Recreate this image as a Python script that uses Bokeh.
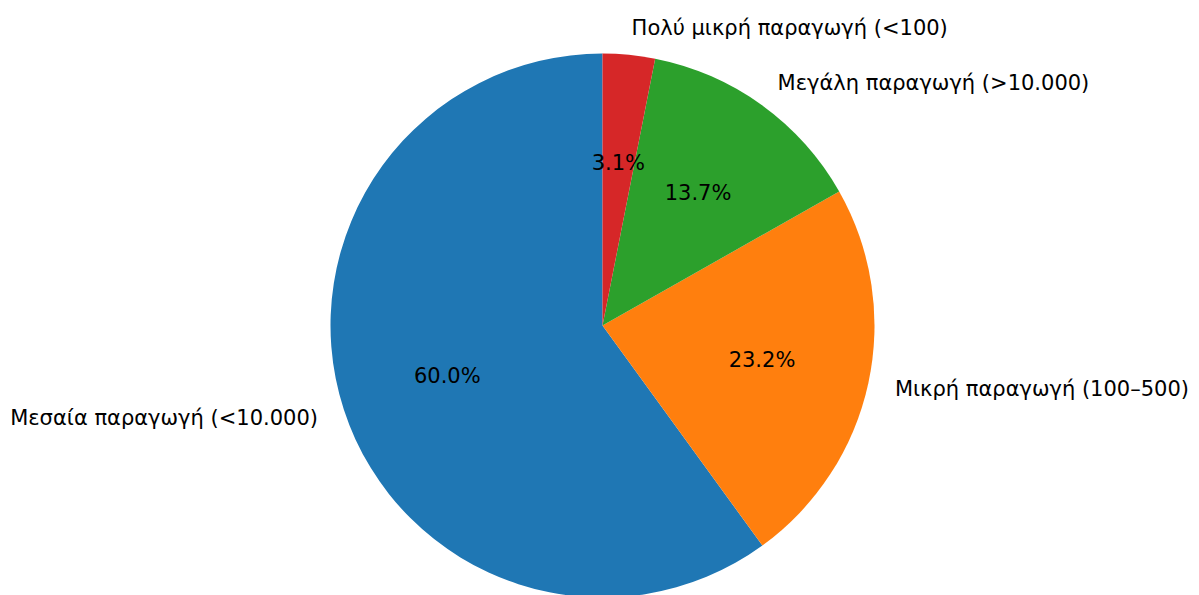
import math
from bokeh.plotting import figure
from bokeh.models import ColumnDataSource, Range1d
from bokeh.core.properties import value
from bokeh.embed import file_html
from bokeh.resources import INLINE

categories = ["Μεσαία παραγωγή (<10.000)", "Μικρή παραγωγή (100–500)",
              "Μεγάλη παραγωγή (>10.000)", "Πολύ μικρή παραγωγή (<100)"]
shares = [60.0, 23.2, 13.7, 3.1]
colors = ["#1f77b4", "#ff7f0e", "#2ca02c", "#d62728"]

W, H = 1199, 595
cx, cy = 602, 325   # pie centre in canvas pixels
scale = 272.0       # pixels per unit radius

total = sum(shares)
starts, ends, mids = [], [], []
a = math.pi / 2
for s in shares:
    da = 2 * math.pi * s / total
    starts.append(a)
    ends.append(a + da)
    mids.append(a + da / 2)
    a += da

wedges = ColumnDataSource(dict(start=starts, end=ends, color=colors))

lab_x = [1.1 * math.cos(m) for m in mids]
lab_y = [1.1 * math.sin(m) for m in mids]
lab_align = ["left" if x > 0 else "right" for x in lab_x]
labels = ColumnDataSource(dict(x=lab_x, y=lab_y, text=categories, align=lab_align))

pct = ColumnDataSource(dict(
    x=[0.6 * math.cos(m) for m in mids],
    y=[0.6 * math.sin(m) for m in mids],
    text=["%.1f%%" % s for s in shares]))

p = figure(width=W, height=H, output_backend="svg", toolbar_location=None,
           x_range=Range1d(-cx / scale, (W - cx) / scale),
           y_range=Range1d(-(H - cy) / scale, cy / scale),
           min_border=0, outline_line_color=None)
p.axis.visible = False
p.grid.visible = False
p.background_fill_color = "white"
p.border_fill_color = "white"

p.wedge(x=0, y=0, radius=1.0, start_angle="start", end_angle="end",
        fill_color="color", line_color=None, source=wedges)

p.text(x="x", y="y", text="text", text_align="align", text_baseline="middle",
       text_font=value("DejaVu Sans"), text_font_size="21px", text_color="#000000",
       source=labels)
p.text(x="x", y="y", text="text", text_align="center", text_baseline="middle",
       text_font=value("DejaVu Sans"), text_font_size="21px", text_color="#000000",
       source=pct)

open("out.html", "w").write(file_html(p, INLINE))
